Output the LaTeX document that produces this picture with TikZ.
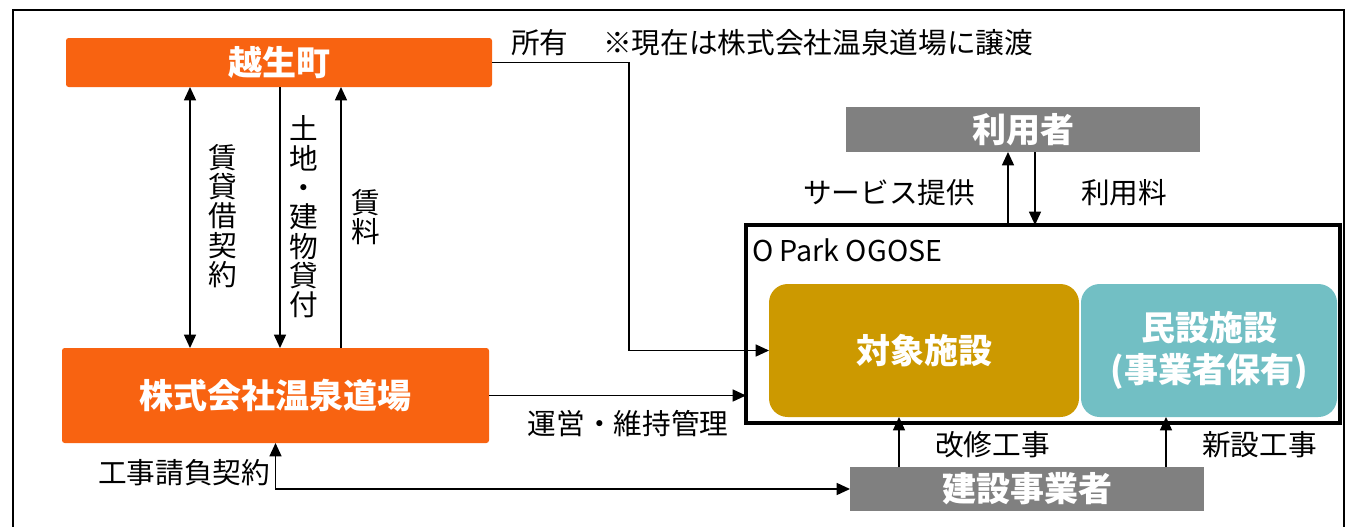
\documentclass[tikz,border=0pt]{standalone}
\usepackage{fontspec}
\setmainfont{Noto Sans CJK JP}
\usepackage{tikz}
\usetikzlibrary{arrows.meta}
\definecolor{townorange}{RGB}{248,99,17}
\definecolor{facgold}{RGB}{204,153,0}
\definecolor{privteal}{RGB}{114,191,196}
\definecolor{partygray}{RGB}{128,128,128}

\begin{document}
\begin{tikzpicture}[x=0.75pt, y=-0.75pt,
  every node/.style={font=\fontsize{21.5}{22}\selectfont, inner sep=0pt, outer sep=0pt, align=center},
  bigtext/.style={text=white, font=\fontsize{25.5}{32}\selectfont\bfseries},
  orangebox/.style={bigtext, fill=townorange, rounded corners=2pt},
  graybox/.style={bigtext, fill=partygray},
  facbox/.style={bigtext, rounded corners=14pt, minimum height=99.75pt},
  arr/.style={line width=1.1pt, -{Triangle[length=10pt,width=9pt]}},
  darr/.style={line width=1.1pt, {Triangle[length=10pt,width=9pt]}-{Triangle[length=10pt,width=9pt]}}]
\useasboundingbox (0,0) rectangle (1348,526);
\draw[line width=2pt] (13,10) rectangle (1344,560);

% parties
\node[orangebox, minimum width=319.5pt, minimum height=36.75pt] (town) at (279,62.5) {越生町};
\node[orangebox, minimum width=320.25pt, minimum height=71.25pt] (corp) at (275.5,395.5) {株式会社温泉道場};
\node[graybox, minimum width=265.5pt, minimum height=33.75pt] (user) at (1023,129.5) {利用者};
\node[graybox, minimum width=265.5pt, minimum height=33pt] (builder) at (1027,489) {建設事業者};

% O Park OGOSE
\node[draw, line width=2.5pt, minimum width=445.5pt, minimum height=148.5pt] (opark) at (1043,324) {};
\node[anchor=west] (oparklbl) at (752,250) {O Park OGOSE};
\node[facbox, fill=facgold, minimum width=232.5pt] (target) at (924,350.5) {対象施設};
\node[facbox, fill=privteal, minimum width=192pt] (private) at (1209,350.5) {民設施設\\(事業者保有)};

% connectors
\coordinate (lease) at (190,0);
\coordinate (land) at (280,0);
\coordinate (rent) at (341,0);
\coordinate (own) at (629,0);
\coordinate (svc) at (1008,0);
\coordinate (fee) at (1035,0);
\coordinate (reno) at (899,0);
\coordinate (newb) at (1166,0);
\draw[darr] (town.south -| lease) -- (corp.north -| lease);
\draw[arr] (town.south -| land) -- (corp.north -| land);
\draw[arr] (corp.north -| rent) -- (town.south -| rent);
\draw[arr] (town.east) -| (own |- target.west) -- (target.west);
\draw[arr] (corp.east) -- (corp.east -| opark.west);
\draw[darr] (builder.west) -| (corp.south);
\draw[arr] (opark.north -| svc) -- (user.south -| svc);
\draw[arr] (user.south -| fee) -- (opark.north -| fee);
\draw[arr] (builder.north -| reno) -- (target.south -| reno);
\draw[arr] (builder.north -| newb) -- (private.south -| newb);

% labels
\node (leaselbl) at (223,216) {賃\\貸\\借\\契\\約};
\node (landlbl) at (304,217) {土\\地\\・\\建\\物\\貸\\付};
\node (rentlbl) at (366,217) {賃\\料};
\node[anchor=west] (ownlbl) at (511,43) {所有};
\node[anchor=west] (notelbl) at (603,43) {※現在は株式会社温泉道場に譲渡};
\node (opslbl) at (628,424) {運営・維持管理};
\node[anchor=east] (contractlbl) at (270,473) {工事請負契約};
\node[anchor=east] (svclbl) at (975,193) {サービス提供};
\node[anchor=west] (feelbl) at (1081,193) {利用料};
\node[anchor=west] (renolbl) at (935,445) {改修工事};
\node[anchor=west] (newblbl) at (1202,445) {新設工事};
\end{tikzpicture}
\end{document}
